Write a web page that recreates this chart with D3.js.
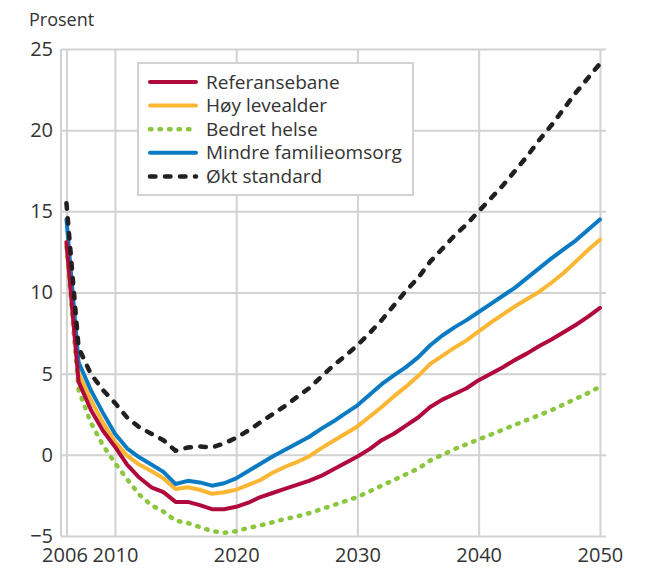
<!DOCTYPE html>
<html>
<head>
<meta charset="utf-8">
<script src="https://cdn.jsdelivr.net/npm/d3@7"></script>
<style>
  body { margin: 0; background: #fff; }
  text { font-family: 'Open Sans', sans-serif; fill: #333; }
</style>
</head>
<body>
<div id="chart"></div>
<script>
const years = d3.range(2006, 2051)

// Prosent, 2006-2050
const referansebane = [13.1, 4.5, 2.8, 1.5, 0.5, -0.6, -1.4, -2.0, -2.3, -2.9, -2.9, -3.1, -3.35, -3.35, -3.2, -2.95,
  -2.6, -2.35, -2.1, -1.85, -1.6, -1.3, -0.9, -0.5, -0.1, 0.35, 0.9, 1.3, 1.8, 2.3, 2.95, 3.4, 3.75, 4.1, 4.6,
  5.0, 5.4, 5.85, 6.25, 6.7, 7.1, 7.55, 8.0, 8.5, 9.05]
const hoyLevealder = [13.1, 5.0, 3.4, 2.0, 0.8, -0.05, -0.6, -1.0, -1.45, -2.1, -2.0, -2.15, -2.4, -2.3, -2.15, -1.85,
  -1.55, -1.1, -0.75, -0.45, -0.1, 0.4, 0.85, 1.3, 1.75, 2.35, 2.95, 3.6, 4.2, 4.85, 5.6, 6.1, 6.6, 7.05, 7.6,
  8.15, 8.65, 9.15, 9.6, 10.05, 10.6, 11.2, 11.9, 12.6, 13.25]
const bedretHelse = [12.8, 4.0, 2.0, 0.6, -0.5, -1.5, -2.45, -3.1, -3.5, -4.05, -4.2, -4.45, -4.7, -4.8, -4.7, -4.5,
  -4.35, -4.15, -3.95, -3.8, -3.6, -3.35, -3.1, -2.85, -2.6, -2.25, -1.9, -1.55, -1.2, -0.85, -0.35, 0.0, 0.35, 0.65, 0.95,
  1.25, 1.55, 1.85, 2.15, 2.45, 2.75, 3.1, 3.45, 3.8, 4.2]
const mindreFamilieomsorg = [14.5, 5.7, 4.0, 2.6, 1.3, 0.4, -0.15, -0.6, -1.05, -1.8, -1.6, -1.7, -1.9, -1.75, -1.45, -1.0,
  -0.55, -0.1, 0.3, 0.7, 1.1, 1.6, 2.05, 2.55, 3.05, 3.7, 4.35, 4.9, 5.4, 6.0, 6.75, 7.35, 7.85, 8.3, 8.8,
  9.3, 9.8, 10.3, 10.9, 11.5, 12.1, 12.65, 13.2, 13.85, 14.5]
const oktStandard = [15.5, 6.6, 5.0, 4.0, 3.2, 2.3, 1.7, 1.3, 0.9, 0.25, 0.45, 0.52, 0.45, 0.7, 1.05, 1.5,
  2.0, 2.5, 3.0, 3.55, 4.1, 4.8, 5.5, 6.1, 6.75, 7.5, 8.3, 9.2, 10.1, 10.9, 11.9, 12.7, 13.5, 14.2, 15.0,
  15.8, 16.6, 17.5, 18.4, 19.4, 20.3, 21.3, 22.3, 23.2, 24.1]

const xTicks = [2006, 2010, 2020, 2030, 2040, 2050]
const yTicks = [-5, 0, 5, 10, 15, 20, 25]

const series = [
  { name: 'Referansebane', values: referansebane, color: '#b00a3c', dash: null },
  { name: 'Høy levealder', values: hoyLevealder, color: '#fbb634', dash: null },
  { name: 'Bedret helse', values: bedretHelse, color: '#8cc63f', dash: '1.5,8' },
  { name: 'Mindre familieomsorg', values: mindreFamilieomsorg, color: '#0a7bc2', dash: null },
  { name: 'Økt standard', values: oktStandard, color: '#231f20', dash: '5.5,9.5' }
]
const drawOrder = [2, 1, 3, 0, 4]

const margin = { top: 49, left: 61, right: 39, bottom: 36 }
const width = 645 - margin.left - margin.right
const height = 572 - margin.top - margin.bottom

const svg = d3
  .select('#chart')
  .append('svg')
  .attr('width', 645)
  .attr('height', 572)
  .append('g')
  .attr('transform', 'translate(' + margin.left + ',' + margin.top + ')')

const xPositionScale = d3.scaleLinear().domain([2005.55, 2050.5]).range([0, width])
const yPositionScale = d3.scaleLinear().domain([-5, 25]).range([height, 0])

// grid
const yAxis = d3.axisLeft(yPositionScale).tickValues(yTicks).tickSize(-width).tickPadding(8)
svg.append('g').attr('class', 'axis y-axis').call(yAxis)

const xAxis = d3.axisBottom(xPositionScale).tickValues(xTicks).tickFormat(d3.format('d')).tickSize(-height).tickPadding(8)
svg.append('g').attr('class', 'axis x-axis').attr('transform', 'translate(0,' + height + ')').call(xAxis)

svg.selectAll('.axis path').remove()
svg.selectAll('.axis line').attr('stroke', '#d2d2d2').attr('stroke-width', 2)
svg.selectAll('.axis text').attr('font-size', 20).attr('fill', '#333')
  .style('font-family', "'Open Sans', sans-serif")
svg.select('.x-axis').selectAll('text')
  .attr('dy', '0.9em')
  .attr('dx', d => (d === 2006 ? -2 : 0))

svg.append('line')
  .attr('x1', 0).attr('x2', 0)
  .attr('y1', 0).attr('y2', height)
  .attr('stroke', '#d2d2d2')
  .attr('stroke-width', 2)

svg.append('text')
  .text('Prosent')
  .attr('x', -32)
  .attr('y', -23)
  .attr('font-size', 18)

const line = d3
  .line()
  .x((d, i) => xPositionScale(years[i]))
  .y(d => yPositionScale(d))

drawOrder.forEach(function(k) {
  const s = series[k]
  svg.append('path')
    .datum(s.values)
    .attr('d', line)
    .attr('fill', 'none')
    .attr('stroke', s.color)
    .attr('stroke-width', s.dash ? 4.5 : 4)
    .attr('stroke-linejoin', 'round')
    .attr('stroke-linecap', 'round')
    .attr('stroke-dasharray', s.dash)
})

// legend
const legend = svg.append('g').attr('transform', 'translate(' + (138 - margin.left) + ',' + (63 - margin.top) + ')')
legend.append('rect')
  .attr('width', 275)
  .attr('height', 132)
  .attr('fill', '#fff')
  .attr('stroke', '#d2d2d2')
  .attr('stroke-width', 2)

series.forEach(function(s, i) {
  const y = 19 + i * 23.6
  legend.append('line')
    .attr('x1', 12).attr('x2', 58)
    .attr('y1', y).attr('y2', y)
    .attr('stroke', s.color)
    .attr('stroke-width', s.dash ? 4.5 : 4)
    .attr('stroke-linecap', 'round')
    .attr('stroke-dasharray', s.dash)
  legend.append('text')
    .text(s.name)
    .attr('x', 68)
    .attr('y', y)
    .attr('dy', '0.35em')
    .attr('font-size', 19)
})
</script>
</body>
</html>
